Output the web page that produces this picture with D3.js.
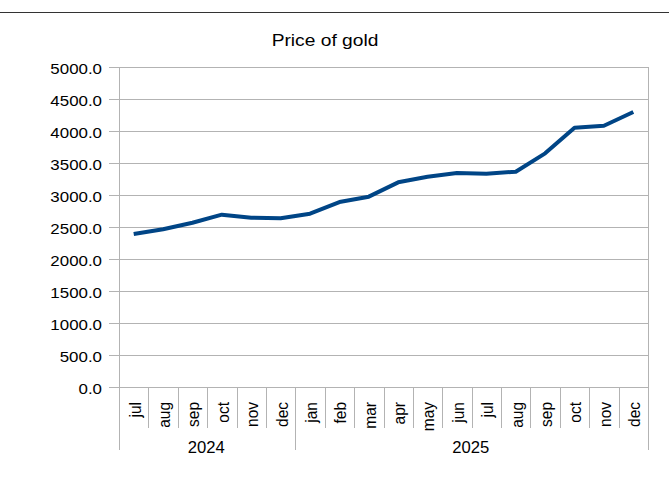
<!DOCTYPE html>
<html>
<head>
<meta charset="utf-8">
<script src="https://cdn.jsdelivr.net/npm/d3@7"></script>
<style>
  html, body { margin: 0; padding: 0; background: #fff; }
  svg { display: block; font-family: "Liberation Sans", Arial, sans-serif; }
</style>
</head>
<body>
<svg id="chart" width="669" height="484"></svg>
<script>
// ---- data ----
const title = "Price of gold";
const months = ["jul","aug","sep","oct","nov","dec","jan","feb","mar","apr","may","jun","jul","aug","sep","oct","nov","dec"];
const years = ["2024", "2025"];
const yearSpans = [6, 12];
const prices = [2390, 2465, 2567, 2693, 2646, 2636, 2708, 2890, 2974, 3198, 3286, 3344, 3333, 3364, 3651, 4052, 4083, 4297];
const yTicks = [0, 500, 1000, 1500, 2000, 2500, 3000, 3500, 4000, 4500, 5000];

// ---- layout ----
const W = 669, H = 484;
const plot = { left: 119, right: 648, top: 67, bottom: 387 };
const gridColor = "#b3b3b3";
const lineColor = "#004586";

const svg = d3.select("#chart");

// top rule
svg.append("line")
  .attr("x1", 0).attr("x2", W).attr("y1", 12.5).attr("y2", 12.5)
  .attr("stroke", "#333").attr("stroke-width", 1);

const x = d3.scaleBand().domain(d3.range(months.length)).range([plot.left, plot.right]).paddingInner(0).paddingOuter(0);
const y = d3.scaleLinear().domain([0, 5000]).range([plot.bottom, plot.top]);

// gridlines + ticks
const yAxis = d3.axisLeft(y).tickValues(yTicks).tickFormat(d3.format(".1f"))
  .tickSize(plot.right - 109).tickPadding(0);
const gy = svg.append("g").attr("transform", `translate(${plot.right},0)`).call(yAxis);
gy.select(".domain").remove();
gy.selectAll(".tick line").attr("stroke", gridColor).attr("shape-rendering", "crispEdges");
gy.selectAll(".tick text").remove();

// y labels
svg.append("g").selectAll("text").data(yTicks).join("text")
  .attr("transform", d => `translate(102,${y(d) + 7}) scale(1.09,1)`)
  .attr("text-anchor", "end")
  .attr("font-size", 15.5)
  .attr("fill", "#000")
  .text(d => d3.format(".1f")(d));

// y axis line
svg.append("line")
  .attr("x1", plot.left + 0.5).attr("x2", plot.left + 0.5)
  .attr("y1", plot.top).attr("y2", plot.bottom)
  .attr("stroke", gridColor);

// right border
svg.append("line")
  .attr("x1", plot.right + 0.5).attr("x2", plot.right + 0.5)
  .attr("y1", plot.top).attr("y2", 450)
  .attr("stroke", gridColor);

// month separators
const seps = d3.range(1, months.length);
const yearBoundaries = [0];
yearSpans.reduce((acc, s) => { yearBoundaries.push(acc + s); return acc + s; }, 0);
svg.append("g").selectAll("line").data(seps).join("line")
  .attr("x1", i => Math.round(x(i)) + 0.5).attr("x2", i => Math.round(x(i)) + 0.5)
  .attr("y1", plot.bottom).attr("y2", i => yearBoundaries.includes(i) ? 450 : 428)
  .attr("stroke", gridColor);
// left edge extension
svg.append("line")
  .attr("x1", plot.left + 0.5).attr("x2", plot.left + 0.5)
  .attr("y1", plot.bottom).attr("y2", 450)
  .attr("stroke", gridColor);

// month labels
svg.append("g").selectAll("text").data(months).join("text")
  .attr("transform", (d, i) => `translate(${x(i) + x.bandwidth() / 2 + 1},402) scale(1.08,1) rotate(-90)`)
  .attr("text-anchor", "end")
  .attr("dy", "0.35em")
  .attr("font-size", 15.5)
  .attr("fill", "#000")
  .text(d => d);

// year labels
svg.append("g").selectAll("text").data(years).join("text")
  .attr("transform", (d, i) => {
    const a = x(yearBoundaries[i]);
    const bIdx = yearBoundaries[i + 1];
    const b = bIdx >= months.length ? plot.right : x(bIdx);
    return `translate(${(a + b) / 2 - 1},452.5) scale(1.04,1)`;
  })
  .attr("text-anchor", "middle")
  .attr("font-size", 16)
  .attr("fill", "#000")
  .text(d => d);

// title
svg.append("text")
  .attr("transform", `translate(325,45.5) scale(1.2,1)`)
  .attr("text-anchor", "middle")
  .attr("font-size", 16)
  .attr("fill", "#000")
  .text(title);

// line
const line = d3.line()
  .x((d, i) => x(i) + x.bandwidth() / 2)
  .y(d => y(d));
svg.append("path")
  .datum(prices)
  .attr("d", line)
  .attr("fill", "none")
  .attr("stroke", lineColor)
  .attr("stroke-width", 4)
  .attr("stroke-linejoin", "round");
</script>
</body>
</html>
